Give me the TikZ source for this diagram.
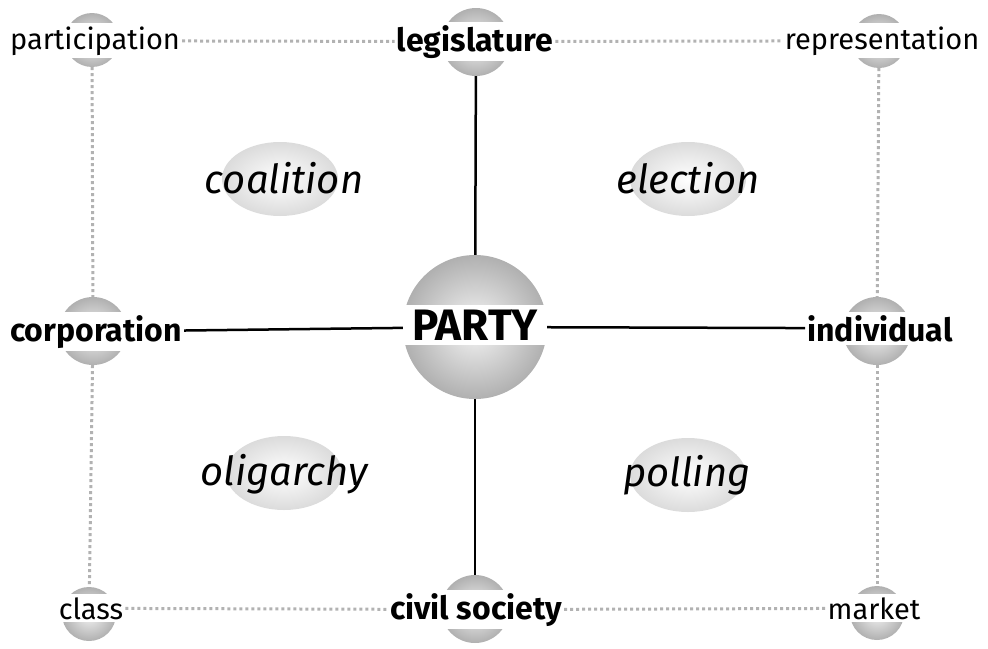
\documentclass[tikz,border=0pt]{standalone}
\usepackage{fontspec}
\setmainfont{Fira Sans}
\usetikzlibrary{shapes.geometric}

\tikzset{
  ball/.style={circle, inner sep=0pt, minimum size=54pt, inner color=gray!8, outer color=gray!62},
  midball/.style={ball, minimum size=68pt},
  bigball/.style={ball, minimum size=144pt},
  blob/.style={ellipse, inner sep=0pt, minimum width=116pt, minimum height=74pt, inner color=white, outer color=gray!28},
  word/.style={fill=white, inner xsep=2pt, inner ysep=3pt, anchor=base, font=\fontsize{29}{32}\selectfont},
  keyword/.style={word, font=\fontsize{32}{34}\selectfont\bfseries},
  topic/.style={anchor=base, inner sep=0pt, font=\fontsize{40}{42}\selectfont\itshape},
  strong/.style={line width=2.5pt},
  faint/.style={gray!60, line width=3pt, dash pattern=on 3pt off 3pt},
}

\begin{document}
\begin{tikzpicture}[x=1pt,y=-1pt]
  \useasboundingbox (0,0) rectangle (988,648);

  %Shape: Balls
  \node[ball]    (part-ball)  at (92,40)   {};
  \node[midball] (legis-ball) at (476,42)  {};
  \node[ball]    (repr-ball)  at (879,41)  {};
  \node[midball] (corp-ball)  at (93,331)  {};
  \node[bigball] (party-ball) at (475,327) {};
  \node[midball] (indiv-ball) at (877,331) {};
  \node[ball]    (class-ball) at (89,614)  {};
  \node[midball] (civil-ball) at (475,609) {};
  \node[ball]    (market-ball) at (877,613) {};

  %Shape: Ellipses
  \node[blob] (coal-blob) at (280,179) {};
  \node[blob] (elec-blob) at (688,179) {};
  \node[blob] (olig-blob) at (284,473) {};
  \node[blob] (poll-blob) at (688,475) {};

  % Text Node
  \node[word]    (part)   at (95,49)   {participation};
  \node[keyword] (legis)  at (475,51)  {legislature};
  \node[word]    (repr)   at (882,49)  {representation};
  \node[keyword] (corp)   at (96,341)  {corporation};
  \node[keyword, font=\fontsize{44}{46}\selectfont\bfseries, inner ysep=5pt, minimum width=145pt] (party) at (475,340) {PARTY};
  \node[keyword] (indiv)  at (880,341) {individual};
  \node[word]    (class)  at (91,619)  {class};
  \node[keyword] (civil)  at (476,619) {civil society};
  \node[word]    (market) at (874,619) {market};

  % Text Node
  \node[topic] (coal) at (284,193) {coalition};
  \node[topic] (elec) at (688,193) {election};
  \node[topic] (olig) at (284,485) {oligarchy};
  \node[topic] (poll) at (687,486) {polling};

  %Straight Lines
  \draw[strong] (legis-ball) -- (party-ball);
  \draw[strong] (party-ball) -- (civil-ball);
  \draw[strong] (corp) -- (party-ball);
  \draw[strong] (party-ball) -- (indiv);

  %Dotted Lines
  \draw[faint] (part) -- (legis);
  \draw[faint] (legis) -- (repr);
  \draw[faint] (class) -- (civil);
  \draw[faint] (civil) -- (market);
  \draw[faint] (part-ball) -- (corp-ball);
  \draw[faint] (corp-ball) -- (class-ball);
  \draw[faint] (repr-ball) -- (indiv-ball);
  \draw[faint] (indiv-ball) -- (market-ball);
\end{tikzpicture}
\end{document}
